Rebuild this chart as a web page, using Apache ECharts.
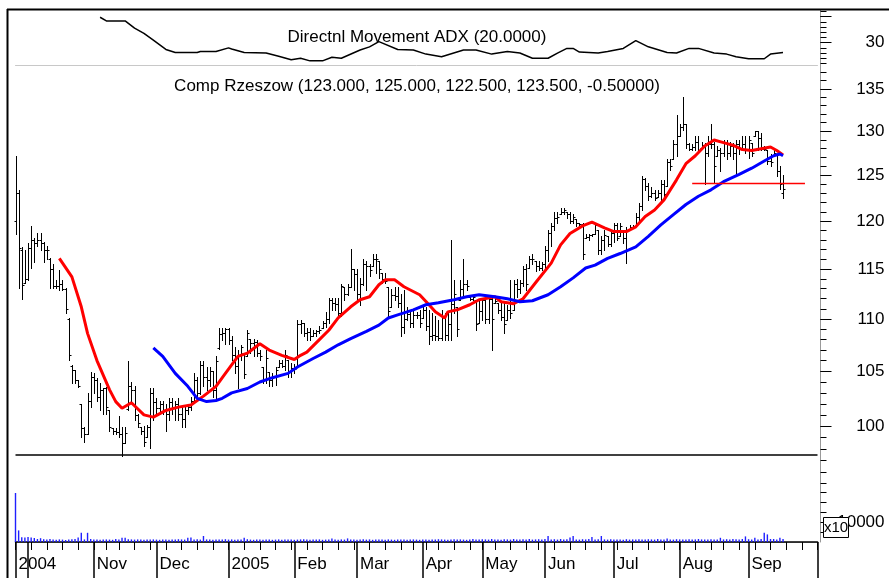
<!DOCTYPE html>
<html>
<head>
<meta charset="utf-8">
<script src="https://cdn.jsdelivr.net/npm/echarts@6/dist/echarts.min.js"></script>
<style>
  html, body { margin: 0; padding: 0; background: #fff; }
  #chart { width: 889px; height: 578px; }
</style>
</head>
<body>
<div id="chart"></div>
<script>
const FONT = '"Liberation Sans", Arial, sans-serif';

// trading calendar (Warsaw, Sep 2004 - Oct 2005)
const holidays = ['2004-11-01', '2004-11-11', '2005-03-25', '2005-03-28', '2005-04-08', '2005-04-29',
  '2005-05-03', '2005-05-26', '2005-08-15'];
const monthLabels = {
  '2004-09': '2004', '2004-10': '', '2004-11': 'Nov', '2004-12': 'Dec', '2005-01': '2005',
  '2005-02': 'Feb', '2005-03': 'Mar', '2005-04': 'Apr', '2005-05': 'May', '2005-06': 'Jun',
  '2005-07': 'Jul', '2005-08': 'Aug', '2005-09': 'Sep', '2005-10': ''
};

// daily bars: open, high, low, close
const bars = [
  [120.0, 127.2, 118.6, 123.0], [123.0, 123.4, 113.1, 117.2], [117.0, 117.3, 112.0, 113.4], [113.6, 117.0, 113.6, 114.0], [114.0, 117.7, 113.9, 117.2],
  [117.2, 119.5, 115.1, 118.0], [118.0, 118.2, 115.7, 117.7], [117.7, 118.8, 117.4, 118.0], [118.0, 118.8, 117.0, 117.7], [117.7, 117.8, 115.7, 117.0],
  [117.0, 117.4, 116.0, 117.0], [116.0, 116.1, 113.1, 115.0], [115.0, 115.5, 113.1, 113.3], [113.3, 113.9, 113.1, 113.3], [113.3, 114.9, 112.9, 113.5],
  [113.5, 113.9, 112.9, 113.0], [113.0, 113.1, 110.6, 111.0], [110.0, 110.1, 106.1, 106.5], [105.5, 105.6, 103.9, 105.1], [105.1, 105.1, 103.9, 104.2],
  [104.2, 104.2, 103.5, 103.6], [102.0, 102.0, 99.0, 99.8], [99.8, 99.9, 98.6, 99.3], [99.3, 103.0, 99.3, 102.3], [102.3, 104.9, 101.7, 104.5],
  [104.5, 104.8, 103.0, 104.2], [104.2, 104.4, 102.3, 102.6], [102.6, 103.9, 101.4, 103.3], [103.3, 103.4, 101.1, 103.4], [103.4, 103.5, 101.1, 101.7],
  [101.4, 101.4, 99.6, 99.9], [99.8, 99.8, 99.3, 99.6], [99.6, 99.8, 99.3, 99.5], [99.5, 100.9, 99.0, 99.3], [99.3, 99.9, 97.4, 98.5],
  [98.5, 99.9, 98.5, 99.4], [101.5, 106.0, 101.4, 103.6], [103.6, 104.0, 102.3, 103.3], [103.3, 103.6, 100.5, 101.0], [101.0, 101.1, 99.9, 100.3],
  [99.9, 99.9, 99.3, 99.6], [99.6, 100.0, 98.2, 98.6], [99.0, 100.1, 99.0, 99.9], [99.9, 103.4, 98.1, 103.0], [103.0, 103.4, 100.5, 102.2],
  [102.2, 102.5, 101.1, 101.6], [101.6, 102.3, 101.1, 102.0], [102.0, 102.3, 101.1, 101.4], [101.4, 102.0, 99.6, 101.1], [101.1, 102.5, 100.5, 102.2],
  [102.2, 102.5, 101.1, 101.7], [101.7, 102.3, 100.5, 102.0], [102.0, 102.5, 100.5, 101.1], [101.1, 101.7, 99.9, 100.6], [100.6, 101.7, 99.9, 101.4],
  [101.4, 102.0, 101.1, 101.7], [101.7, 102.6, 101.4, 102.3], [102.3, 104.8, 102.3, 104.2], [104.2, 104.5, 102.6, 103.0], [103.0, 106.0, 102.9, 105.6],
  [105.6, 106.0, 103.6, 104.5], [104.5, 105.4, 103.3, 104.2], [104.2, 105.4, 103.6, 105.0], [105.0, 105.0, 102.6, 103.3], [103.3, 106.4, 102.4, 106.0],
  [107.2, 109.1, 107.1, 108.5], [108.5, 109.1, 108.0, 108.6], [108.6, 109.1, 107.6, 109.0], [109.0, 109.1, 107.6, 108.0], [108.0, 108.3, 106.1, 106.5],
  [106.5, 107.3, 104.8, 105.5], [105.5, 107.0, 103.4, 106.5], [106.5, 107.5, 106.1, 107.3], [106.7, 106.7, 104.4, 104.7], [106.4, 108.9, 106.4, 108.6],
  [108.1, 108.1, 106.7, 107.7], [107.7, 108.1, 106.4, 107.8], [107.8, 108.0, 106.4, 106.7], [106.7, 107.0, 106.1, 106.4], [105.4, 105.4, 103.9, 104.2],
  [104.2, 107.0, 103.9, 106.2], [104.9, 104.9, 103.6, 104.2], [104.2, 104.8, 103.6, 104.5], [104.5, 105.4, 103.7, 105.1], [105.4, 106.1, 105.4, 105.8],
  [105.8, 106.1, 105.4, 105.5], [105.5, 107.0, 105.1, 106.5], [106.1, 106.1, 104.5, 105.0], [105.0, 105.8, 104.5, 105.3], [105.3, 105.7, 104.8, 105.2],
  [105.4, 109.9, 105.4, 109.5], [109.5, 109.9, 108.6, 109.6], [109.6, 109.6, 108.3, 108.6], [108.6, 109.1, 108.0, 108.7], [108.7, 109.1, 108.0, 108.3],
  [108.3, 108.9, 108.3, 108.6], [108.6, 108.9, 108.3, 108.8], [108.8, 109.3, 108.6, 108.9], [109.1, 109.8, 109.1, 109.6], [109.6, 110.7, 109.2, 110.0],
  [110.0, 112.1, 109.6, 111.9], [111.9, 112.1, 110.9, 111.6], [111.6, 112.1, 110.9, 111.5], [111.5, 112.1, 110.3, 110.6], [110.6, 113.5, 110.3, 113.3],
  [113.2, 113.2, 111.9, 112.5], [112.5, 113.5, 112.4, 113.2], [113.2, 117.1, 113.2, 115.0], [115.0, 115.0, 112.9, 114.5], [114.5, 115.0, 111.9, 112.5],
  [112.5, 114.1, 111.4, 113.5], [113.5, 116.0, 113.4, 115.5], [115.5, 115.8, 112.9, 115.3], [115.3, 115.5, 114.3, 114.9], [115.3, 116.5, 115.3, 116.0],
  [116.0, 116.5, 114.6, 116.0], [115.8, 115.8, 114.1, 115.0], [114.6, 114.6, 113.6, 114.0], [114.0, 114.6, 113.6, 113.8], [113.2, 113.2, 110.3, 110.8],
  [111.2, 113.0, 111.2, 112.4], [112.4, 113.2, 111.9, 112.3], [112.3, 113.2, 111.2, 111.6], [111.6, 112.5, 108.3, 109.2], [109.2, 112.9, 108.6, 110.0],
  [110.0, 111.2, 109.9, 110.5], [110.5, 110.9, 109.2, 109.6], [109.6, 110.9, 109.2, 110.4], [110.4, 110.7, 110.1, 110.4], [110.4, 110.9, 109.2, 109.6],
  [110.1, 111.2, 110.1, 110.9], [110.9, 111.2, 108.9, 109.3], [109.3, 110.9, 107.6, 108.3], [108.3, 110.6, 108.0, 108.4], [108.4, 110.3, 108.0, 108.3],
  [108.3, 109.9, 108.0, 108.2], [108.2, 110.9, 108.0, 110.3], [110.3, 110.6, 108.0, 108.4], [108.4, 110.6, 108.0, 109.5], [109.5, 118.0, 108.0, 111.5],
  [111.5, 113.9, 110.6, 112.5], [111.2, 111.2, 108.3, 109.0], [111.9, 113.9, 111.9, 113.0], [113.0, 116.0, 112.2, 113.5], [113.5, 113.9, 112.9, 113.3],
  [112.2, 112.2, 111.9, 112.0], [112.0, 112.4, 111.9, 112.2], [111.9, 111.9, 108.9, 109.5], [109.6, 111.9, 109.6, 110.8], [110.8, 112.1, 109.9, 111.9],
  [111.9, 112.1, 109.6, 110.0], [110.0, 112.1, 109.6, 112.0], [112.0, 112.1, 107.0, 110.0], [111.6, 112.1, 111.6, 111.8], [111.6, 111.6, 110.6, 110.9],
  [110.9, 111.6, 109.9, 110.2], [110.2, 111.6, 108.6, 109.5], [109.9, 111.4, 109.9, 110.9], [110.9, 113.9, 110.1, 110.6], [110.9, 113.9, 110.9, 113.5],
  [113.5, 114.0, 112.2, 113.0], [113.0, 113.9, 112.6, 113.6], [113.6, 115.3, 113.3, 115.0], [115.0, 115.5, 112.9, 113.5], [115.1, 116.3, 115.1, 116.0],
  [116.0, 116.5, 115.5, 116.0], [115.8, 115.8, 114.8, 115.3], [115.3, 115.8, 114.9, 115.1], [115.1, 115.7, 114.9, 115.5], [115.5, 117.4, 114.9, 117.0],
  [117.0, 119.1, 115.8, 118.8], [118.8, 119.8, 117.4, 119.5], [119.5, 121.0, 119.1, 120.3], [120.3, 121.0, 119.8, 120.5], [120.8, 121.4, 120.8, 121.0],
  [121.0, 121.4, 120.8, 121.2], [121.0, 121.0, 120.3, 120.8], [120.8, 121.0, 119.8, 120.0], [120.0, 120.8, 119.8, 120.5], [120.2, 120.2, 119.5, 119.8],
  [119.8, 119.8, 119.5, 119.7], [119.7, 119.8, 116.0, 116.5], [118.2, 118.6, 118.2, 118.3], [118.3, 118.6, 118.0, 118.5], [118.5, 118.6, 118.4, 118.6],
  [118.6, 119.8, 118.6, 119.6], [119.1, 119.1, 116.6, 117.0], [117.0, 118.4, 116.6, 118.0], [118.0, 119.1, 117.0, 118.5], [118.4, 118.4, 117.4, 117.6],
  [117.6, 119.1, 117.4, 118.8], [118.8, 119.8, 117.8, 119.6], [119.6, 119.8, 118.0, 118.2], [118.4, 119.8, 118.4, 119.5], [119.1, 119.1, 117.7, 118.2],
  [118.2, 119.4, 115.6, 119.0], [119.1, 119.6, 119.1, 119.4], [119.4, 119.6, 119.3, 119.5], [119.5, 120.9, 119.5, 120.5], [120.5, 122.0, 120.0, 121.6],
  [121.6, 124.9, 121.2, 124.6], [124.6, 124.7, 123.4, 123.8], [123.8, 124.1, 122.3, 122.7], [122.7, 123.7, 122.6, 123.0], [123.0, 123.4, 122.3, 122.5],
  [122.6, 123.4, 122.6, 123.0], [123.0, 124.5, 122.1, 124.0], [124.0, 124.5, 122.6, 122.9], [123.8, 126.8, 123.8, 126.5], [126.5, 126.8, 125.6, 126.0],
  [126.8, 129.0, 126.8, 128.5], [128.5, 131.9, 127.2, 129.5], [129.5, 130.9, 129.4, 130.5], [130.5, 134.0, 130.2, 130.9], [130.9, 130.9, 128.1, 128.5],
  [128.5, 128.7, 127.8, 128.0], [128.0, 128.5, 127.9, 128.2], [128.2, 129.4, 127.9, 128.8], [128.8, 129.4, 127.5, 127.9], [128.1, 128.8, 128.1, 128.4],
  [128.4, 128.7, 124.0, 127.5], [127.5, 129.4, 127.2, 128.5], [128.5, 130.9, 128.1, 128.5], [128.5, 128.8, 124.1, 126.0], [127.2, 128.3, 127.2, 127.8],
  [127.8, 128.1, 125.5, 127.5], [127.5, 129.0, 127.2, 128.7], [128.7, 129.0, 126.8, 127.5], [127.5, 128.8, 127.2, 128.3], [128.3, 128.7, 126.8, 127.5],
  [127.5, 129.0, 125.2, 128.5], [128.5, 129.0, 127.4, 128.0], [128.1, 129.4, 128.1, 128.5], [128.5, 129.4, 127.5, 128.0], [128.0, 129.5, 127.0, 129.0],
  [128.7, 128.7, 127.2, 127.5], [129.4, 130.0, 129.4, 130.0], [130.0, 130.0, 127.9, 129.2], [129.2, 129.8, 127.9, 128.0], [128.0, 128.3, 127.8, 128.0],
  [127.9, 127.9, 126.3, 126.6], [126.6, 127.4, 126.0, 126.5], [127.2, 127.9, 127.2, 127.5], [127.4, 127.4, 124.9, 125.5], [125.5, 126.1, 123.5, 124.0],
  [123.0, 125.0, 122.5, 123.5]
];

// moving averages: [bar index, value]
const maShort = [
  [14, 116.1], [18, 114.2], [21, 111.2], [23, 108.6], [26, 106.0], [30, 103.3], [32, 102.2], [34, 101.6], [37, 102.1], [41, 101.0],
  [44, 100.8], [48, 101.4], [52, 101.7], [56, 101.9], [60, 102.7], [64, 103.6], [67, 104.8], [71, 106.4], [74, 106.7], [78, 107.6],
  [81, 107.0], [85, 106.5], [89, 106.1], [91, 106.5], [93, 106.8], [97, 108.0], [100, 108.9], [103, 110.1], [107, 111.2], [110, 111.9],
  [113, 112.2], [116, 113.4], [118, 113.9], [121, 113.9], [124, 113.2], [129, 112.4], [132, 111.4], [134, 110.7], [137, 110.1], [138, 110.7],
  [141, 110.9], [145, 111.4], [148, 111.9], [153, 112.2], [155, 111.7], [159, 111.5], [162, 112.0], [166, 113.6], [171, 115.6], [174, 117.5],
  [177, 118.7], [181, 119.5], [184, 119.9], [188, 119.3], [191, 118.9], [195, 118.9], [198, 119.4], [201, 120.5], [204, 121.2], [207, 122.3],
  [211, 124.5], [214, 126.3], [217, 127.2], [220, 128.3], [223, 129.0], [226, 128.7], [229, 128.4], [232, 127.9], [235, 127.8], [238, 128.0],
  [241, 128.2], [243, 127.8], [245, 127.3]
];
const maLong = [
  [44, 107.2], [47, 106.4], [51, 104.8], [55, 103.6], [58, 102.5], [61, 102.2], [64, 102.3], [66, 102.5], [69, 103.0], [74, 103.4],
  [78, 104.0], [82, 104.4], [87, 104.8], [90, 105.4], [95, 106.2], [99, 106.8], [103, 107.5], [107, 108.1], [112, 108.8], [116, 109.4],
  [119, 110.1], [122, 110.4], [127, 110.9], [131, 111.4], [135, 111.6], [140, 111.9], [144, 112.2], [148, 112.4], [153, 112.2], [157, 112.0],
  [161, 111.7], [165, 111.8], [170, 112.4], [174, 113.2], [178, 114.1], [182, 115.1], [185, 115.4], [189, 116.1], [193, 116.6], [198, 117.3],
  [202, 118.4], [206, 119.6], [210, 120.7], [214, 121.8], [218, 122.7], [222, 123.4], [226, 124.3], [231, 125.1], [235, 125.8], [239, 126.6],
  [242, 127.2], [244, 127.4], [245, 127.2]
];

// ADX(20): [bar index, value]
const adx = [
  [27, 34.9], [29, 34.2], [35, 34.2], [38, 32.8], [41, 31.8], [44, 30.5], [48, 28.7], [51, 28.1], [58, 28.1], [59, 28.3],
  [64, 28.3], [68, 29.0], [69, 28.8], [73, 28.1], [80, 28.0], [84, 27.4], [88, 26.7], [91, 27.0], [94, 26.5], [98, 26.5],
  [101, 27.2], [104, 27.0], [110, 28.6], [113, 29.2], [116, 30.2], [122, 28.7], [127, 28.6], [131, 27.8], [136, 27.3], [143, 28.6],
  [147, 28.6], [152, 27.8], [157, 28.3], [161, 28.0], [165, 27.0], [170, 27.0], [173, 28.0], [176, 28.9], [178, 28.9], [180, 28.2],
  [186, 28.0], [189, 28.3], [194, 28.9], [198, 30.4], [202, 29.2], [208, 28.1], [211, 28.0], [215, 28.9], [218, 28.9], [223, 28.0],
  [227, 27.8], [230, 27.3], [234, 26.9], [239, 26.9], [241, 27.8], [245, 28.1]
];

// volume (x10)
const volume = [
  24500, 5800, 2400, 2300, 2500, 2200, 2000, 1500, 1900, 1400, 1200, 1500, 1200, 1100, 1300, 1200, 1000, 1300, 1400, 1500,
  2200, 4600, 1300, 4600, 1500, 1200, 1300, 1100, 1200, 1300, 1200, 1100, 1500, 1300, 2100, 2100, 1400, 1300, 1200, 1300,
  1200, 1100, 1300, 1200, 1300, 1200, 1100, 1300, 1200, 1100, 1300, 1200, 1400, 1300, 1200, 2100, 2200, 1300, 1400, 1200,
  3000, 1300, 1200, 1100, 1300, 1200, 1300, 1400, 1200, 1300, 1100, 1200, 1300, 2100, 1400, 1200, 1100, 1300, 1200, 1100,
  1300, 1200, 1100, 1200, 1300, 1100, 1200, 1300, 1200, 1100, 1200, 1300, 1400, 1200, 1100, 1300, 1200, 1300, 1100, 1200,
  1300, 1800, 1200, 1100, 1300, 1200, 1800, 1300, 1200, 1100, 1300, 1400, 1200, 1300, 1100, 1200, 1300, 1200, 1100, 1300,
  1200, 1100, 1300, 1200, 1300, 1100, 1200, 1300, 1200, 1100, 1300, 1200, 1100, 1300, 1200, 1400, 1300, 1200, 1100, 1300,
  1400, 1200, 1300, 1200, 1100, 1300, 1500, 1200, 1300, 1400, 1300, 1200, 1500, 1300, 1200, 1100, 1400, 1300, 1200, 1500,
  1300, 1200, 1400, 1300, 1500, 1200, 1300, 1400, 1200, 1500, 3000, 1300, 1400, 1200, 1500, 1300, 1400, 2200, 3000, 1300,
  1200, 1400, 1300, 1500, 2500, 1300, 1400, 3000, 1300, 1200, 1400, 1300, 1200, 1300, 1100, 1400, 1200, 1300, 1200, 1400,
  1300, 1200, 1400, 1300, 1200, 1500, 1300, 1200, 1800, 1300, 1200, 1400, 1300, 1200, 1300, 1400, 1200, 1300, 1500, 1300,
  1200, 1300, 1400, 1300, 1200, 2100, 1300, 1400, 1300, 1500, 1400, 1300, 1500, 2800, 1400, 1300, 2100, 1300, 1500, 4600,
  3800, 1500, 1500, 1300, 2100, 1500
];

// drawn lines
const supportPrice = 97.4;
const resistance = { from: 216, to: 252, price: 124.1 };

// axis scales
const priceLabels = [100, 105, 110, 115, 120, 125, 130, 135];
const priceRange = [94.3, 137.9];
const adxRange = [25.7, 36.3];
const volumeRange = [0, 25000];

// build calendar
const days = [];
(function () {
  const d = new Date(Date.UTC(2004, 8, 27));
  const end = Date.UTC(2005, 9, 3);
  while (d.getTime() <= end) {
    const s = d.toISOString().slice(0, 10);
    const wd = d.getUTCDay();
    if (wd !== 0 && wd !== 6 && holidays.indexOf(s) < 0) days.push(s);
    d.setUTCDate(d.getUTCDate() + 1);
  }
})();
const monthStart = {};
const weekStart = {};
days.forEach(function (s, i) {
  const prev = days[i - 1];
  if (!prev || prev.slice(0, 7) !== s.slice(0, 7)) monthStart[i] = monthLabels[s.slice(0, 7)];
  if (!prev || new Date(s).getUTCDay() <= new Date(prev).getUTCDay()) weekStart[i] = true;
});

const ln = Math.log;
const priceMinor = [];
for (let p = 94; p <= 137; p++) priceMinor.push(ln(p));
const adxMinor = [26, 27, 28, 29, 30, 31, 32, 33, 34, 35, 36];

const chart = echarts.init(document.getElementById('chart'));

const gridPos = { left: 15.5, right: 71.5, outerBoundsMode: 'none' };
function xCat(gridIndex, extra) {
  return Object.assign({
    type: 'category', gridIndex: gridIndex, data: days, boundaryGap: false,
    axisLine: { show: false }, axisTick: { show: false }, axisLabel: { show: false },
    splitLine: { show: false }
  }, extra);
}
function yRight(gridIndex, extra) {
  return Object.assign({
    type: 'value', gridIndex: gridIndex, position: 'right', offset: 3,
    axisLine: { show: true, lineStyle: { color: '#999', width: 1 } },
    axisTick: { show: false }, axisLabel: { show: false }, splitLine: { show: false }
  }, extra);
}
const labelStyle = { color: '#000', fontFamily: FONT, fontSize: 17, lineHeight: 17 };

chart.setOption({
  animation: false,
  backgroundColor: '#fff',
  title: [
    { text: 'Directnl Movement ADX (20.0000)', left: 417, top: 28.5, padding: 0, textAlign: 'center',
      textStyle: { fontFamily: FONT, fontSize: 17, lineHeight: 17, fontWeight: 'normal', color: '#000' } },
    { text: 'Comp Rzeszow (123.000, 125.000, 122.500, 123.500, -0.50000)', left: 417, top: 77.5, padding: 0, textAlign: 'center',
      textStyle: { fontFamily: FONT, fontSize: 17, lineHeight: 17, fontWeight: 'normal', color: '#000' } }
  ],
  grid: [
    Object.assign({ top: 10, height: 55 }, gridPos),
    Object.assign({ top: 65, height: 427 }, gridPos),
    Object.assign({ top: 492, height: 50 }, gridPos)
  ],
  xAxis: [
    xCat(0, { axisLine: { show: true, lineStyle: { color: '#c8c8c8', width: 1 } } }),
    xCat(1),
    xCat(2, { position: 'top', axisLine: { show: true, lineStyle: { color: '#b4b4b4', width: 1 } } }),
    xCat(2, {
      position: 'bottom',
      axisLine: { show: true, onZero: false, lineStyle: { color: '#000', width: 1.5 } },
      axisTick: { show: true, length: 8, lineStyle: { color: '#000', width: 1 },
        interval: function (i) { return !!weekStart[i]; } }
    }),
    xCat(2, {
      position: 'bottom',
      axisTick: { show: true, length: 36, lineStyle: { color: '#000', width: 1.5 },
        interval: function (i) { return monthStart[i] !== undefined; } },
      axisLabel: Object.assign({
        show: true, align: 'left', margin: 13.5, padding: [0, 0, 0, 3],
        interval: function (i) { return !!monthStart[i]; },
        formatter: function (v, i) { return monthStart[i] || ''; }
      }, labelStyle)
    })
  ],
  yAxis: [
    yRight(0, { min: adxRange[0], max: adxRange[1],
      axisTick: { show: true, length: 6, customValues: adxMinor, lineStyle: { color: '#000' } } }),
    yRight(0, { min: adxRange[0], max: adxRange[1], axisLine: { show: false },
      axisTick: { show: true, length: 11, customValues: [30, 35], lineStyle: { color: '#000' } },
      axisLabel: Object.assign({ show: true, align: 'right', margin: 64, customValues: [30] }, labelStyle) }),
    yRight(1, { min: ln(priceRange[0]), max: ln(priceRange[1]),
      axisTick: { show: true, length: 6, customValues: priceMinor, lineStyle: { color: '#000' } } }),
    yRight(1, { min: ln(priceRange[0]), max: ln(priceRange[1]), axisLine: { show: false },
      axisTick: { show: true, length: 11, customValues: priceLabels.map(ln), lineStyle: { color: '#000' } },
      axisLabel: Object.assign({ show: true, align: 'right', margin: 64, customValues: priceLabels.map(ln),
        formatter: function (v) { return String(Math.round(Math.exp(v))); } }, labelStyle) }),
    yRight(2, { min: volumeRange[0], max: volumeRange[1],
      axisTick: { show: true, length: 6, customValues: [5000, 10000, 15000, 20000, 25000], lineStyle: { color: '#000' } },
      axisLabel: Object.assign({ show: true, align: 'right', margin: 64, customValues: [10000],
        formatter: function (v) { return String(Math.round(v)); } }, labelStyle) })
  ],
  series: [
    {
      type: 'line', name: 'ADX', xAxisIndex: 0, yAxisIndex: 0, data: adx,
      showSymbol: false, lineStyle: { color: '#000', width: 1.5 }, silent: true
    },
    {
      type: 'custom', name: 'Comp Rzeszow', xAxisIndex: 1, yAxisIndex: 2,
      data: bars.map(function (b, i) { return [i, b[0], b[1], b[2], b[3]]; }),
      renderItem: function (params, api) {
        const i = api.value(0);
        const x = Math.round(api.coord([i, ln(100)])[0]) + 0.5;
        const y = function (v) { return Math.round(api.coord([i, ln(v)])[1]) + 0.5; };
        const yo = y(api.value(1)), yh = y(api.value(2)), yl = y(api.value(3)), yc = y(api.value(4));
        const st = { stroke: '#000', lineWidth: 1 };
        return {
          type: 'group', children: [
            { type: 'line', shape: { x1: x, y1: yh - 0.5, x2: x, y2: yl + 0.5 }, style: st },
            { type: 'line', shape: { x1: x - 2, y1: yo, x2: x, y2: yo }, style: st },
            { type: 'line', shape: { x1: x, y1: yc, x2: x + 2, y2: yc }, style: st }
          ]
        };
      },
      markLine: {
        silent: true, symbol: 'none', label: { show: false },
        lineStyle: { color: '#000', width: 1.5, type: 'solid' },
        data: [{ yAxis: ln(supportPrice) }]
      }
    },
    {
      type: 'line', name: 'MA short', xAxisIndex: 1, yAxisIndex: 2,
      data: maShort.map(function (p) { return [p[0], ln(p[1])]; }),
      showSymbol: false, lineStyle: { color: '#ff0000', width: 3 }, z: 5, silent: true
    },
    {
      type: 'line', name: 'MA long', xAxisIndex: 1, yAxisIndex: 2,
      data: maLong.map(function (p) { return [p[0], ln(p[1])]; }),
      showSymbol: false, lineStyle: { color: '#0000ff', width: 3 }, z: 5, silent: true
    },
    {
      type: 'line', name: 'Resistance', xAxisIndex: 1, yAxisIndex: 2,
      data: [[resistance.from, ln(resistance.price)], [resistance.to, ln(resistance.price)]],
      showSymbol: false, lineStyle: { color: '#ff0000', width: 1.5 }, z: 6, silent: true
    },
    {
      type: 'bar', name: 'Volume', xAxisIndex: 3, yAxisIndex: 4, data: volume,
      barWidth: 1.4, itemStyle: { color: '#2020ff' }, silent: true
    }
  ],
  graphic: [
    { type: 'line', shape: { x1: 7.5, y1: 9, x2: 7.5, y2: 578 }, style: { stroke: '#000', lineWidth: 2 }, z: 50 },
    { type: 'line', shape: { x1: 7, y1: 9.5, x2: 889, y2: 9.5 }, style: { stroke: '#000', lineWidth: 2 }, z: 50 },
    { type: 'rect', shape: { x: 823.5, y: 517.5, width: 25, height: 20 }, style: { fill: '#fff', stroke: '#000', lineWidth: 1 }, z: 100 },
    { type: 'text', x: 836, y: 528, z: 101,
      style: { text: 'x10', fontFamily: FONT, fontSize: 15, align: 'center', verticalAlign: 'middle', fill: '#000' } }
  ]
});
</script>
</body>
</html>
